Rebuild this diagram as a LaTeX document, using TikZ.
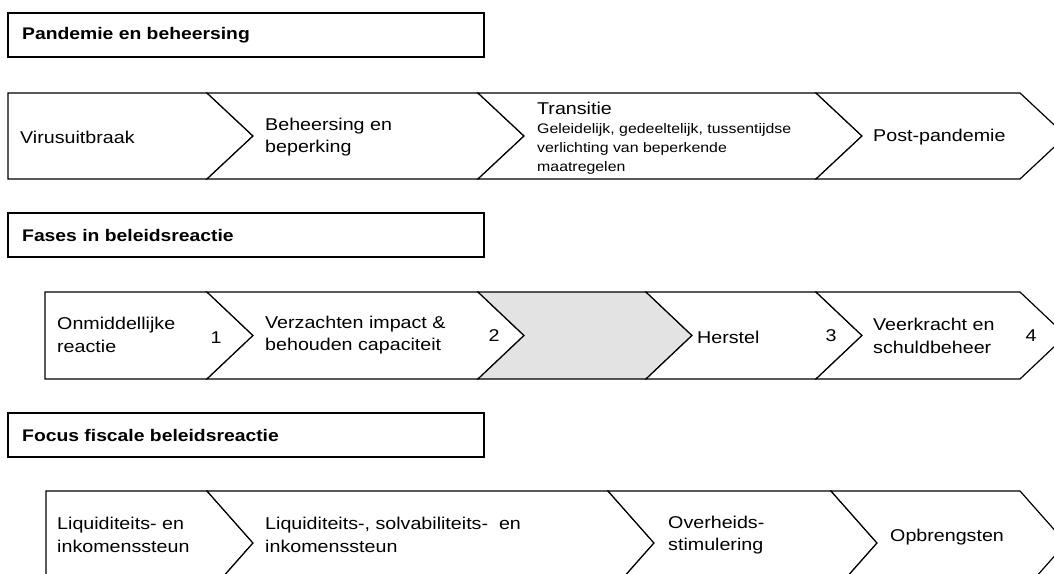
\documentclass[tikz,border=0pt]{standalone}
\usepackage{fontspec}
\setmainfont[FakeStretch=1.15]{Liberation Sans}
\begin{document}
\begin{tikzpicture}[x=1pt,y=-1pt,
  chev/.style={draw=black,line width=1.2pt,line join=miter,fill=white},
  greychev/.style={chev,fill=black!11},
  hdr/.style={draw=black,line width=1.2pt,fill=white},
  lbl/.style={anchor=west,inner sep=0pt,align=left,font=\fontsize{17.1}{22.5}\selectfont},
  small/.style={anchor=west,inner sep=0pt,align=left,font=\fontsize{13.8}{18.8}\selectfont},
  hdrtxt/.style={anchor=west,inner sep=0pt,font=\fontsize{16.8}{18}\selectfont\bfseries},
  num/.style={anchor=center,inner sep=0pt,font=\fontsize{17.1}{18}\selectfont}]
\useasboundingbox (0,0) rectangle (1054,573);
\clip (0,0) rectangle (1054,573);
\def\d{46}
% ---------- headers
\draw[hdr] (8,13) rectangle (484,57);
\node[hdrtxt] (h1) at (22,35) {Pandemie en beheersing};
\draw[hdr] (8,213) rectangle (484,257);
\node[hdrtxt] (h2) at (22,235) {Fases in beleidsreactie};
\draw[hdr] (8,413) rectangle (484,457);
\node[hdrtxt] (h3) at (22,435) {Focus fiscale beleidsreactie};
% ---------- row 1 (top 93, bottom 179, mid 136)
\draw[chev] (8,93) -- (207,93) -- (207+\d,136) -- (207,179) -- (8,179) -- cycle;
\draw[chev] (207,93) -- (478,93) -- (478+\d,136) -- (478,179) -- (207,179) -- (207+\d,136) -- cycle;
\draw[chev] (478,93) -- (816,93) -- (816+\d,136) -- (816,179) -- (478,179) -- (478+\d,136) -- cycle;
\draw[chev] (816,93) -- (1020,93) -- (1020+\d,136) -- (1020,179) -- (816,179) -- (816+\d,136) -- cycle;
\node[lbl] (r1a) at (20,137) {Virusuitbraak};
\node[lbl] (r1b) at (265,137) {Beheersing en\\beperking};
\node[lbl] (r1c) at (537,108) {Transitie};
\node[small] (r1d) at (537,149) {Geleidelijk, gedeeltelijk, tussentijdse\\verlichting van beperkende\\maatregelen};
\node[lbl] (r1e) at (873,137) {Post-pandemie};
% ---------- row 2 (top 292, bottom 379, mid 335.5)
\draw[chev] (45,292) -- (207,292) -- (207+\d,335.5) -- (207,379) -- (45,379) -- cycle;
\draw[chev] (207,292) -- (478,292) -- (478+\d,335.5) -- (478,379) -- (207,379) -- (207+\d,335.5) -- cycle;
\draw[greychev] (478,292) -- (646,292) -- (646+\d,335.5) -- (646,379) -- (478,379) -- (478+\d,335.5) -- cycle;
\draw[chev] (646,292) -- (816,292) -- (816+\d,335.5) -- (816,379) -- (646,379) -- (646+\d,335.5) -- cycle;
\draw[chev] (816,292) -- (1020,292) -- (1020+\d,335.5) -- (1020,379) -- (816,379) -- (816+\d,335.5) -- cycle;
\node[lbl] (r2a) at (57,335) {Onmiddellijke\\reactie};
\node[num] (n1) at (216,338) {1};
\node[lbl] (r2b) at (265,335) {Verzachten impact \&\\behouden capaciteit};
\node[num] (n2) at (494,336) {2};
\node[lbl] (r2c) at (697,337) {Herstel};
\node[num] (n3) at (831,336) {3};
\node[lbl] (r2d) at (873,336) {Veerkracht en\\schuldbeheer};
\node[num] (n4) at (1031,336) {4};
% ---------- row 3 (top 491, mid 543)
\draw[chev] (46,491) -- (207,491) -- (207+\d,543) -- (207,595) -- (46,595) -- cycle;
\draw[chev] (207,491) -- (608,491) -- (608+\d,543) -- (608,595) -- (207,595) -- (207+\d,543) -- cycle;
\draw[chev] (608,491) -- (831,491) -- (831+\d,543) -- (831,595) -- (608,595) -- (608+\d,543) -- cycle;
\draw[chev] (831,491) -- (1020,491) -- (1020+\d,543) -- (1020,595) -- (831,595) -- (831+\d,543) -- cycle;
\node[lbl] (r3a) at (57,535) {Liquiditeits- en\\inkomenssteun};
\node[lbl] (r3b) at (265,535) {Liquiditeits-, solvabiliteits-\ \ en\\inkomenssteun};
\node[lbl] (r3c) at (668,535) {Overheids-\\stimulering};
\node[lbl] (r3d) at (890,537) {Opbrengsten};
\end{tikzpicture}
\end{document}
